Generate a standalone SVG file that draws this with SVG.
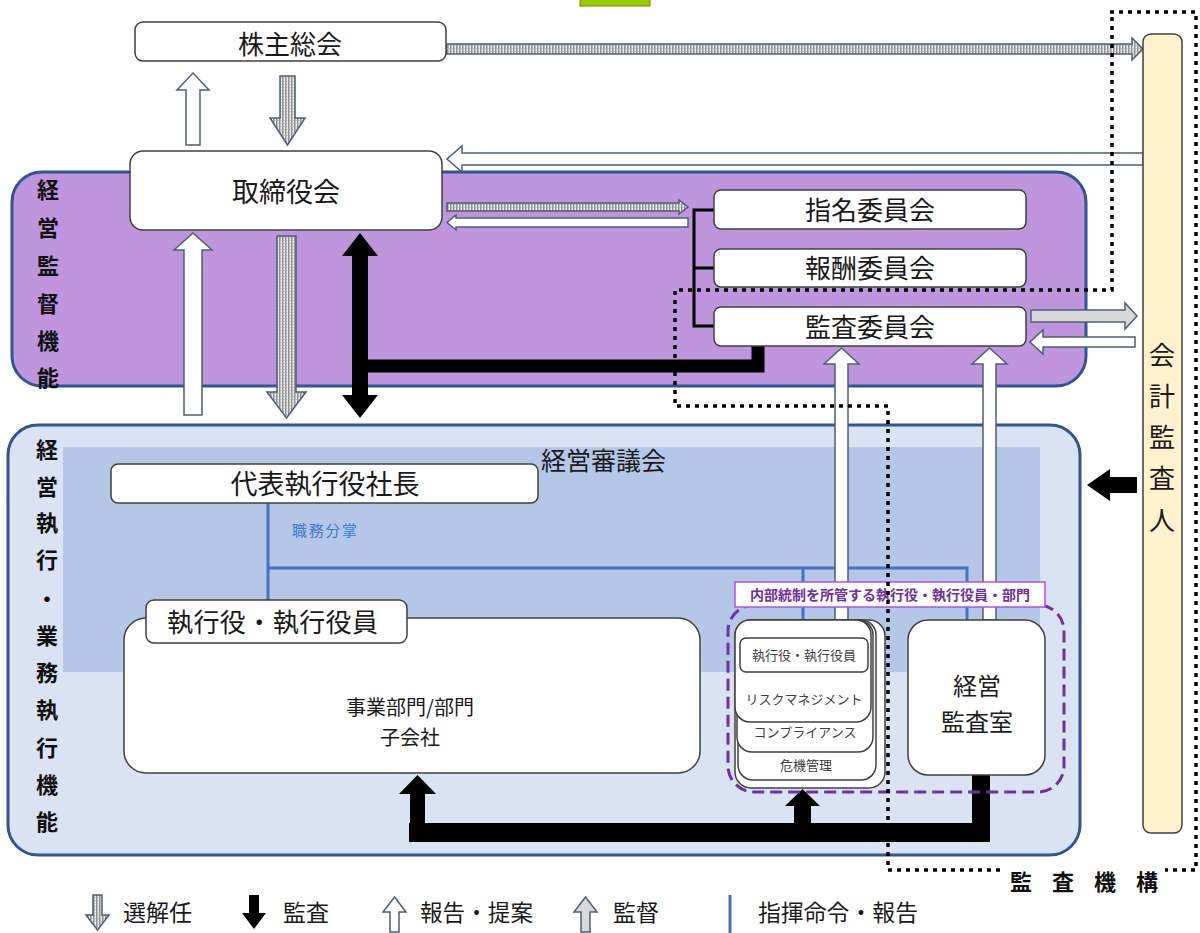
<svg xmlns="http://www.w3.org/2000/svg" width="1200" height="933" viewBox="0 0 1200 933">
<defs>
<pattern id="hatch" width="3" height="3" patternUnits="userSpaceOnUse">
<rect width="3" height="3" fill="#f2f2f2"/>
<rect width="1.5" height="3" fill="#8c8c8c"/>
<rect y="0" width="3" height="1" fill="#a6a6a6" opacity="0.5"/>
</pattern>
<style>
text{font-family:"Noto Sans CJK JP","Noto Sans",sans-serif;fill:#1a1a1a}
.box{fill:#fff;stroke:#404040;stroke-width:1.5}
.hollow{fill:#fff;stroke:#4d5e78;stroke-width:1.5}
.hatch{fill:url(#hatch);stroke:#4d5e78;stroke-width:1.5}
.grayA{fill:#d9d9d9;stroke:#4d5e78;stroke-width:1.5}
.blk{fill:#000}
.blue{stroke:#4472c4;stroke-width:3;fill:none}
.dot{stroke:#000;stroke-width:3.5;fill:none;stroke-dasharray:4 5}
.t27{font-size:27px;text-anchor:middle}
.t26{font-size:26px;text-anchor:middle}
.vlab{font-size:22px;font-weight:bold;text-anchor:middle;fill:#111}
.small{font-size:13px;text-anchor:middle;fill:#404040}
.leg{font-size:23px}
</style>
</defs>

<rect x="580" y="-4" width="70" height="10" fill="#99cc00" stroke="#6b8e00" stroke-width="1"/>

<g id="region-supervision">
<rect x="12" y="172" width="1074" height="214" rx="30" fill="#bf95dd" stroke="#2f5597" stroke-width="3"/>
<text class="vlab" x="48" y="198">経</text>
<text class="vlab" x="48" y="236">営</text>
<text class="vlab" x="48" y="274">監</text>
<text class="vlab" x="48" y="312">督</text>
<text class="vlab" x="48" y="349">機</text>
<text class="vlab" x="48" y="386">能</text>
</g>

<g id="region-execution">
<rect x="8" y="425" width="1072" height="430" rx="30" fill="#dae3f3" stroke="#2f5597" stroke-width="3"/>
<rect x="63" y="447" width="977" height="225" fill="#b4c7e7"/>
<text x="541" y="470" style="font-size:25px">経営審議会</text>
<text class="vlab" x="47" y="458">経</text>
<text class="vlab" x="47" y="495">営</text>
<text class="vlab" x="47" y="531">執</text>
<text class="vlab" x="47" y="568">行</text>
<text class="vlab" x="47" y="607">・</text>
<text class="vlab" x="47" y="644">業</text>
<text class="vlab" x="47" y="681">務</text>
<text class="vlab" x="47" y="718">執</text>
<text class="vlab" x="47" y="756">行</text>
<text class="vlab" x="47" y="793">機</text>
<text class="vlab" x="47" y="830">能</text>
</g>

<g id="connectors">
<path class="blue" d="M268 503 V620 M268 568 H967 V620 M803 568 V622"/>
<text x="292" y="536" textLength="65" style="font-size:15px;fill:#3a7bd0">職務分掌</text>
<path d="M714 210 H694 V326 H714 M694 268 H714" stroke="#000" stroke-width="3" fill="none"/>
<polygon class="hollow" points="186,145 186,90 177,90 193,73 209,90 200,90 200,145"/>
<polygon class="hatch" points="280,76 280,118 270,118 287.5,145 305,118 295,118 295,76"/>
<polygon class="hatch" points="446,44 1132,44 1132,38 1143,49 1132,60 1132,54 446,54"/>
<polygon class="hollow" points="1143,153 462,153 462,146 447,159 462,172 462,165 1143,165"/>
<polygon class="hatch" points="447,203 679,203 679,200 688,207 679,214 679,211 447,211"/>
<polygon class="hollow" points="688,218 456,218 456,215 447,222.5 456,230 456,227 688,227"/>
<polygon class="hollow" points="184,415 184,250 174,250 193,233 212,250 202,250 202,415"/>
<polygon class="hatch" points="277,236 277,392 267,392 286.5,418 306,392 296,392 296,236"/>
<polygon class="blk" points="360,233 378,256 368,256 368,395 378,395 360,418 342,395 352,395 352,256 342,256"/>
<path d="M758 345 V366 H360" stroke="#000" stroke-width="13" fill="none"/>
<polygon class="grayA" points="1031,310 1125,310 1125,303 1137,316 1125,329 1125,322 1031,322"/>
<polygon class="hollow" points="1135,337 1043,337 1043,330 1030,342 1043,354 1043,347 1135,347"/>
<polygon class="hollow" points="835,620 835,364 824,364 841.5,348 859,364 848,364 848,620"/>
<polygon class="hollow" points="983,620 983,364 972,364 989.5,348 1007,364 996,364 996,620"/>
<polygon class="blk" points="1137,477 1110,477 1110,469 1087,485 1110,501 1110,493 1137,493"/>
<rect class="blk" x="409" y="823" width="581" height="19"/>
<rect class="blk" x="972" y="774" width="18" height="68"/>
<polygon class="blk" points="410,823 410,794 399,794 417.5,775 436,794 425,794 425,823"/>
<polygon class="blk" points="794,823 794,806 785,806 802.5,789 820,806 811,806 811,823"/>
</g>

<g id="node-shareholders">
<rect class="box" x="135" y="22" width="311" height="39" rx="8"/>
<text class="t26" x="290" y="54">株主総会</text>
</g>

<g id="node-board">
<rect class="box" x="130" y="151" width="312" height="79" rx="13"/>
<text class="t27" x="286" y="202">取締役会</text>
</g>

<g id="node-nomination">
<rect class="box" x="714" y="190" width="312" height="39" rx="7"/>
<text class="t26" x="870" y="220">指名委員会</text>
</g>
<g id="node-compensation">
<rect class="box" x="714" y="249" width="312" height="38" rx="7"/>
<text class="t26" x="870" y="278">報酬委員会</text>
</g>
<g id="node-audit-committee">
<rect class="box" x="714" y="307" width="312" height="39" rx="7"/>
<text class="t26" x="870" y="337">監査委員会</text>
</g>

<g id="node-accounting-auditor">
<rect x="1143" y="34" width="39" height="799" rx="8" fill="#fff2cc" stroke="#404040" stroke-width="1.5"/>
<text class="t26" x="1162" y="365">会</text>
<text class="t26" x="1162" y="406">計</text>
<text class="t26" x="1162" y="447">監</text>
<text class="t26" x="1162" y="488">査</text>
<text class="t26" x="1162" y="530">人</text>
</g>

<g id="node-ceo">
<rect class="box" x="111" y="464" width="427" height="39" rx="7"/>
<text class="t27" x="325" y="494">代表執行役社長</text>
</g>

<g id="node-business">
<rect class="box" x="124" y="618" width="576" height="155" rx="22"/>
<text x="410" y="715" style="font-size:20px;text-anchor:middle">事業部門/部門</text>
<text x="410" y="745" style="font-size:20px;text-anchor:middle">子会社</text>
</g>
<g id="node-officers">
<rect class="box" x="146" y="600" width="261" height="43" rx="8"/>
<text x="167" y="632" textLength="211" lengthAdjust="spacing" style="font-size:26px">執行役・執行役員</text>
</g>

<g id="node-internal-control">
<rect x="728" y="605" width="336" height="187" rx="26" fill="none" stroke="#7030a0" stroke-width="3" stroke-dasharray="12 6"/>
<rect x="735" y="582" width="310" height="25" fill="#fff" stroke="#b050f0" stroke-width="1.5"/>
<text x="890" y="600" style="font-size:14px;font-weight:bold;text-anchor:middle;fill:#7030a0">内部統制を所管する執行役・執行役員・部門</text>
<rect class="box" x="735" y="620" width="150" height="168" rx="16"/>
<rect class="box" x="738" y="620" width="138" height="160" rx="15"/>
<rect class="box" x="737" y="620" width="136" height="132" rx="15"/>
<rect class="box" x="735" y="620" width="136" height="102" rx="15"/>
<rect class="box" x="740" y="638" width="128" height="34" rx="6"/>
<text class="small" x="804" y="660">執行役・執行役員</text>
<text class="small" x="804" y="704">リスクマネジメント</text>
<text class="small" x="805" y="737">コンプライアンス</text>
<text class="small" x="806" y="770">危機管理</text>
</g>

<g id="node-internal-audit">
<rect class="box" x="908" y="620" width="137" height="155" rx="20"/>
<text x="977" y="695" style="font-size:24px;text-anchor:middle">経営</text>
<text x="977" y="731" style="font-size:24px;text-anchor:middle">監査室</text>
</g>

<g id="audit-organization">
<path class="dot" d="M1110 12 H1196 V870 H1165 M1000 870 H888 V406 H675 V290 H1112 V12"/>
<text x="1010" y="890" style="font-size:22px;font-weight:bold;fill:#111;letter-spacing:20px">監査機構</text>
</g>

<g id="legend">
<polygon class="hatch" points="93,895 93,915 86,915 97.5,930 109,915 102,915 102,895"/>
<text class="leg" x="123" y="921">選解任</text>
<polygon class="blk" points="249,895 249,913 242,913 254,929 266,913 259,913 259,895"/>
<text class="leg" x="283" y="921">監査</text>
<polygon class="hollow" points="390,932 390,912 383,912 394.5,897 406,912 399,912 399,932"/>
<text class="leg" x="420" y="921" textLength="113" lengthAdjust="spacingAndGlyphs">報告・提案</text>
<polygon class="grayA" points="581,932 581,912 574,912 585.5,897 597,912 590,912 590,932"/>
<text class="leg" x="613" y="921">監督</text>
<line x1="730" y1="895" x2="730" y2="933" stroke="#4472c4" stroke-width="3"/>
<text class="leg" x="758" y="921" textLength="160" lengthAdjust="spacingAndGlyphs">指揮命令・報告</text>
</g>
</svg>
